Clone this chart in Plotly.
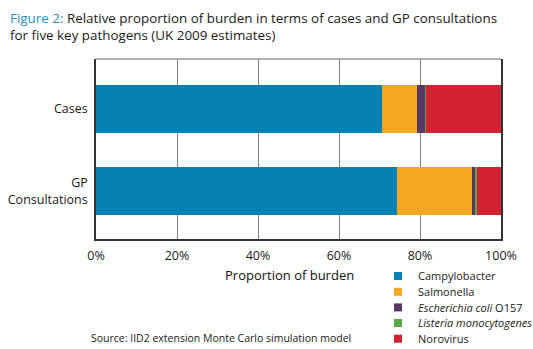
import plotly.graph_objects as go

categories = ["Cases", "GP<br>Consultations"]
pathogens = ["Campylobacter", "Salmonella", "<i>Escherichia coli</i> O157",
             "<i>Listeria monocytogenes</i>", "Norovirus"]
colors = ["#0581b3", "#f5a81f", "#593766", "#5ba646", "#d22131"]
values = {
    "Campylobacter": [70.5, 74.4],
    "Salmonella": [8.8, 18.5],
    "<i>Escherichia coli</i> O157": [2.1, 0.6],
    "<i>Listeria monocytogenes</i>": [0.05, 0.6],
    "Norovirus": [18.55, 5.9],
}
tick_vals = [0, 20, 40, 60, 80, 100]
tick_text = ["0%", "20%", "40%", "60%", "80%", "100%"]

FONT = "Open Sans"
L, R, T, B = 96, 501, 59, 239
PW, PH = R - L, B - T

legend_names = ["legend", "legend2", "legend3", "legend4", "legend5"]
legend_rows_y = [276, 291.7, 307.4, 323.1, 338.8]

fig = go.Figure()
for name, col, lg in zip(pathogens, colors, legend_names):
    fig.add_trace(go.Bar(
        y=categories, x=values[name], orientation="h", name=name,
        marker=dict(color=col, line=dict(width=0)), width=0.593,
        showlegend=False,
    ))
    fig.add_trace(go.Scatter(
        x=[None], y=[None], mode="markers", name=name, legend=lg,
        marker=dict(symbol="square", size=8, color=col),
    ))

legends = {}
for lg, yc in zip(legend_names, legend_rows_y):
    legends[lg] = dict(
        x=(378 - L) / PW, xanchor="left",
        y=-(yc - B) / PH, yanchor="middle",
        font=dict(family=FONT, size=11, color="#1a1a1a"),
        itemwidth=30, bgcolor="rgba(0,0,0,0)", borderwidth=0,
    )

fig.update_layout(
    width=533, height=349,
    margin=dict(l=L, r=533 - R, t=T, b=349 - B, autoexpand=False),
    paper_bgcolor="white", plot_bgcolor="white",
    barmode="stack",
    font=dict(family=FONT, size=12, color="#1a1a1a"),
    xaxis=dict(
        range=[0, 100], tickvals=tick_vals, ticktext=tick_text,
        showgrid=True, gridcolor="#808080", gridwidth=1,
        showline=True, linecolor="#333333", linewidth=1.5, mirror=False,
        zeroline=False, ticks="", ticklen=0, ticklabelstandoff=4,
        tickfont=dict(size=12.5, color="#1a1a1a"),
    ),
    yaxis=dict(
        type="category", range=[1.585, -0.61],
        showline=True, linecolor="#333333", linewidth=1.5, mirror=True,
        showgrid=False, ticks="", ticklen=0, ticklabelstandoff=4,
        tickfont=dict(size=12.5, color="#1a1a1a"),
    ),
    shapes=[dict(type="line", xref="paper", yref="paper", x0=0, x1=1, y0=1, y1=1,
                 line=dict(color="#9a9a9a", width=1.5))],
    annotations=[
        dict(text='<span style="color:#2a8cc0">Figure 2:</span> Relative proportion of burden in terms of cases and GP consultations<br>for five key pathogens (UK 2009 estimates)',
             xref="paper", yref="paper", x=(8 - L) / PW, y=1 + (T - 7) / PH,
             xanchor="left", yanchor="top", align="left", showarrow=False,
             font=dict(family=FONT, size=13.4, color="#1a1a1a")),
        dict(text="Proportion of burden", xref="paper", yref="paper",
             x=(289 - L) / PW, y=-(275 - B) / PH, xanchor="center", yanchor="middle",
             showarrow=False, font=dict(family=FONT, size=13, color="#111111")),
        dict(text="Source: IID2 extension Monte Carlo simulation model",
             xref="paper", yref="paper", x=(89 - L) / PW, y=-(338 - B) / PH,
             xanchor="left", yanchor="middle", showarrow=False,
             font=dict(family=FONT, size=10.5, color="#1a1a1a")),
    ],
    **legends,
)
fig.write_html("out.html")
